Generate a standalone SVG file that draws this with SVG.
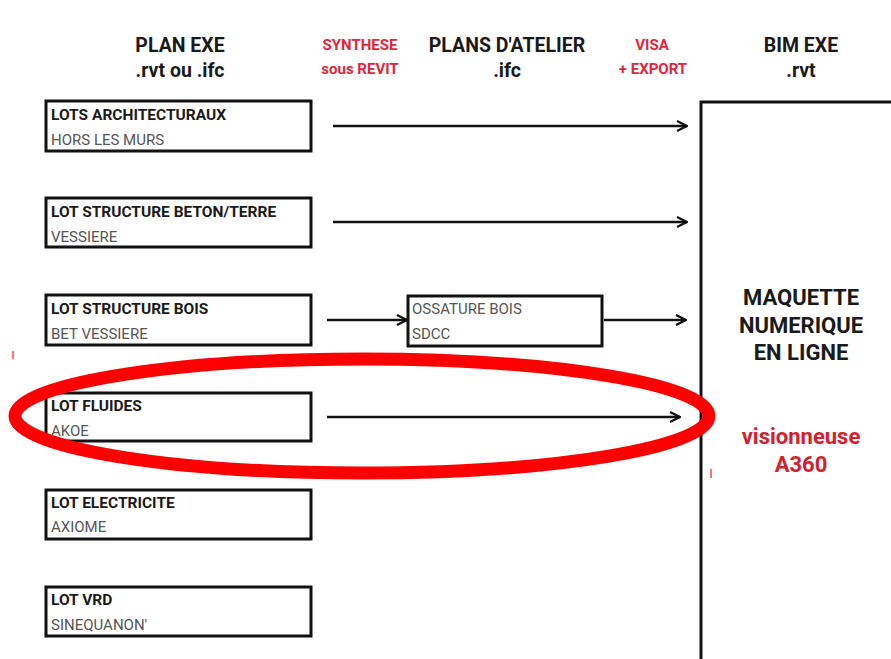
<svg xmlns="http://www.w3.org/2000/svg" width="891" height="659" viewBox="0 0 891 659">
<defs>
<marker id="arr" viewBox="0 0 12 12" refX="11" refY="6" markerWidth="12" markerHeight="12" markerUnits="userSpaceOnUse" orient="auto">
<path d="M1,1 L11,6 L1,11" fill="none" stroke="#111" stroke-width="2.2"/>
</marker>
<style>
.box{fill:#fff;stroke:#111;stroke-width:3}
.t{font-family:Roboto,"Liberation Sans",Arial,sans-serif;font-weight:bold;font-size:15.5px;fill:#1a1a1a}
.s{font-family:Roboto,"Liberation Sans",Arial,sans-serif;font-size:15px;fill:#555}
.h{font-family:Roboto,"Liberation Sans",Arial,sans-serif;font-weight:bold;font-size:19.5px;fill:#1a1a1a;text-anchor:middle}
.r{font-family:Roboto,"Liberation Sans",Arial,sans-serif;font-weight:bold;font-size:15px;fill:#e0263a;text-anchor:middle}
.big{font-family:Roboto,"Liberation Sans",Arial,sans-serif;font-weight:bold;font-size:22px;fill:#1a1a1a;text-anchor:middle}
.red{font-family:Roboto,"Liberation Sans",Arial,sans-serif;font-weight:bold;font-size:22px;fill:#d4202e;text-anchor:middle}
.c{stroke:#111;stroke-width:2.5;fill:none;marker-end:url(#arr)}
</style>
</defs>
<rect width="891" height="659" fill="#fff"/>
<g id="headers">
<text class="h" x="180" y="52">PLAN EXE</text>
<text class="h" x="180" y="77">.rvt ou .ifc</text>
<text class="r" x="360" y="50">SYNTHESE</text>
<text class="r" x="360" y="74">sous REVIT</text>
<text class="h" x="507" y="52">PLANS D'ATELIER</text>
<text class="h" x="507" y="77">.ifc</text>
<text class="r" x="652" y="50">VISA</text>
<text class="r" x="653" y="74">+ EXPORT</text>
<text class="h" x="801" y="52">BIM EXE</text>
<text class="h" x="801" y="77">.rvt</text>
</g>
<g id="lot-archi">
<rect class="box" x="46" y="101" width="265" height="50"/>
<text class="t" x="51" y="120">LOTS ARCHITECTURAUX</text>
<text class="s" x="51" y="145">HORS LES MURS</text>
</g>
<g id="lot-beton">
<rect class="box" x="46" y="198" width="265" height="49"/>
<text class="t" x="51" y="217">LOT STRUCTURE BETON/TERRE</text>
<text class="s" x="51" y="242">VESSIERE</text>
</g>
<g id="lot-bois">
<rect class="box" x="46" y="295" width="265" height="50"/>
<text class="t" x="51" y="314">LOT STRUCTURE BOIS</text>
<text class="s" x="51" y="339">BET VESSIERE</text>
</g>
<g id="lot-fluides">
<rect class="box" x="46" y="393" width="265" height="48"/>
<text class="t" x="51" y="411">LOT FLUIDES</text>
<text class="s" x="51" y="436">AKOE</text>
</g>
<g id="lot-elec">
<rect class="box" x="46" y="490" width="265" height="49"/>
<text class="t" x="51" y="508">LOT ELECTRICITE</text>
<text class="s" x="51" y="532">AXIOME</text>
</g>
<g id="lot-vrd">
<rect class="box" x="46" y="587" width="265" height="49"/>
<text class="t" x="51" y="605">LOT VRD</text>
<text class="s" x="51" y="630">SINEQUANON'</text>
</g>
<g id="ossature">
<rect class="box" x="408" y="296" width="194" height="50"/>
<text class="s" x="412" y="314">OSSATURE BOIS</text>
<text class="s" x="412" y="339">SDCC</text>
</g>
<g id="bim">
<path d="M701,659 V102 H891" fill="none" stroke="#111" stroke-width="3"/>
<text class="big" x="801" y="305">MAQUETTE</text>
<text class="big" x="801" y="333">NUMERIQUE</text>
<text class="big" x="801" y="360">EN LIGNE</text>
<text class="red" x="801" y="444">visionneuse</text>
<text class="red" x="801" y="472">A360</text>
</g>
<g id="connectors">
<line class="c" x1="333" y1="126" x2="687" y2="126"/>
<line class="c" x1="333" y1="222" x2="687" y2="222"/>
<line class="c" x1="327" y1="320" x2="407" y2="320"/>
<line class="c" x1="604" y1="320" x2="686" y2="320"/>
<line class="c" x1="327" y1="417" x2="680" y2="417"/>
</g>
<g id="highlight">
<ellipse cx="362" cy="416" rx="347" ry="57" fill="none" stroke="#f00" stroke-width="13"/>
<line x1="13" y1="351" x2="13" y2="359" stroke="#f44" stroke-width="1.5"/>
<line x1="711" y1="469" x2="711" y2="478" stroke="#f44" stroke-width="1.5"/>
</g>
</svg>
